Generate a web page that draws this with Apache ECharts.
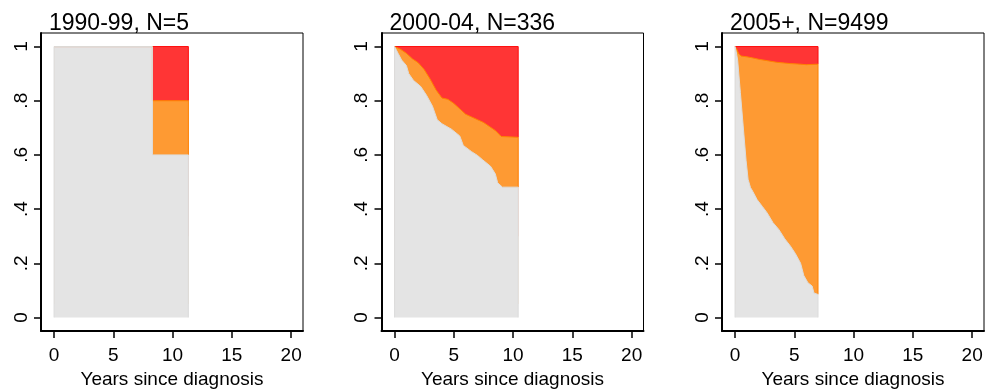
<!DOCTYPE html>
<html>
<head>
<meta charset="utf-8">
<script src="https://cdn.jsdelivr.net/npm/echarts@6/dist/echarts.min.js"></script>
<style>
  html, body { margin: 0; padding: 0; background: #fff; }
  #chart { width: 987px; height: 390px; }
</style>
</head>
<body>
<div id="chart"></div>
<script>
const panelTitles = ['1990-99, N=5', '2000-04, N=336', '2005+, N=9499'];
const xTicks = [0, 5, 10, 15, 20];
const yTicks = [0, 0.2, 0.4, 0.6, 0.8, 1];
const followUp = [11.33, 10.43, 7.0];

// grey = lower band, orange = top of the middle band (red fills the rest up to 1)
const grey1 = [[0, 1], [8.3, 1], [8.3, 0.6], [11.33, 0.6]];
const orange1 = [[0, 1], [8.3, 1], [8.3, 0.8], [11.33, 0.8]];

const grey2 = [[0, 1], [0.3, 0.975], [0.6, 0.95], [1.0, 0.93], [1.2, 0.9], [1.6, 0.875], [2.2, 0.853],
  [2.7, 0.82], [3.2, 0.78], [3.6, 0.73], [4.0, 0.715], [4.8, 0.695], [5.5, 0.67], [5.8, 0.635],
  [6.5, 0.612], [7.0, 0.598], [7.4, 0.583], [8.1, 0.558], [8.5, 0.53], [8.7, 0.497], [9.1, 0.481],
  [10.43, 0.481]];
const orange2 = [[0, 1], [0.5, 0.99], [1.0, 0.975], [1.5, 0.955], [2.0, 0.94], [2.5, 0.915], [3.0, 0.88],
  [3.5, 0.84], [4.0, 0.81], [4.5, 0.805], [5.0, 0.79], [5.5, 0.77], [6.0, 0.75], [6.5, 0.74],
  [7.0, 0.73], [7.5, 0.72], [8.0, 0.705], [8.5, 0.69], [9.0, 0.668], [10.43, 0.665]];

const grey3 = [[0, 1], [0.1, 0.98], [0.22, 0.95], [0.45, 0.83], [0.68, 0.71], [0.93, 0.58], [1.1, 0.51],
  [1.3, 0.48], [1.5, 0.465], [1.86, 0.435], [2.3, 0.41], [2.71, 0.386], [3.2, 0.35], [3.69, 0.325],
  [4.2, 0.29], [4.68, 0.263], [5.1, 0.235], [5.53, 0.2], [5.8, 0.155], [6.15, 0.128], [6.5, 0.116],
  [6.66, 0.09], [7.0, 0.085]];
const orange3 = [[0, 1], [0.15, 0.99], [0.3, 0.975], [0.5, 0.965], [1.0, 0.962], [1.5, 0.958], [2.0, 0.953],
  [2.7, 0.948], [3.5, 0.942], [4.2, 0.939], [4.7, 0.937], [5.5, 0.935], [6.0, 0.933], [7.0, 0.935]];

const greys = [grey1, grey2, grey3];
const oranges = [orange1, orange2, orange3];

const font = 'Liberation Sans, Arial, sans-serif';
const gridLefts = [41, 381.5, 722];

let chart = echarts.init(document.getElementById('chart'));

const last = pts => pts[pts.length - 1][1];

let grids = [], xAxes = [], yAxes = [], titles = [], series = [];
gridLefts.forEach((left, i) => {
  grids.push({
    left: left, top: 33, width: 262, height: 298,
    outerBoundsMode: 'none', containLabel: false,
    show: true, borderColor: '#000', borderWidth: 1, backgroundColor: '#fff'
  });
  titles.push({
    text: panelTitles[i], left: left + 3, top: 7,
    textStyle: { fontFamily: font, fontSize: 23, fontWeight: 'normal', color: '#000' }
  });
  xAxes.push({
    type: 'value', gridIndex: i, min: -1.1, max: 21,
    name: 'Years since diagnosis', nameLocation: 'middle', nameGap: 32,
    nameTextStyle: { fontFamily: font, fontSize: 19, color: '#000' },
    axisLine: { onZero: false, lineStyle: { color: '#000', width: 2 } },
    axisTick: { customValues: xTicks, length: 7, lineStyle: { color: '#000', width: 1.5 } },
    axisLabel: { customValues: xTicks, margin: 15, fontFamily: font, fontSize: 19, color: '#000' },
    splitLine: { show: false }
  });
  yAxes.push({
    type: 'value', gridIndex: i, min: -0.05, max: 1.05,
    axisLine: { onZero: false, lineStyle: { color: '#000', width: 2 } },
    axisTick: { customValues: yTicks, length: 7, lineStyle: { color: '#000', width: 1.5 } },
    axisLabel: {
      customValues: yTicks, rotate: 90, margin: 10, fontFamily: font, fontSize: 19, color: '#000',
      formatter: v => (v === 0 || v === 1) ? String(v) : String(+v.toFixed(1)).replace('0.', '.')
    },
    splitLine: { show: false }
  });

  const end = followUp[i];
  const gEnd = last(greys[i]), oEnd = last(oranges[i]);
  const common = { type: 'line', xAxisIndex: i, yAxisIndex: i, showSymbol: false, silent: true, animation: false };
  // red and orange only need to reach under the grey band, so their bottoms stay hidden;
  // the right edge of each band gets its own colour
  series.push(Object.assign({}, common, {
    data: [[0, 1], [end, 1], [end, oEnd]],
    lineStyle: { color: '#ff0d0d', width: 1 },
    areaStyle: { color: '#ff3535', opacity: 1, origin: 0.3 }
  }));
  series.push(Object.assign({}, common, {
    data: oranges[i].concat([[end, gEnd]]),
    lineStyle: { color: '#ff8200', width: 1 },
    areaStyle: { color: '#fe9a33', opacity: 1, origin: 0.05 }
  }));
  series.push(Object.assign({}, common, {
    data: [[0, 0]].concat(greys[i], [[end, 0]]),
    lineStyle: { color: '#dcdcdc', width: 1 },
    areaStyle: { color: '#e4e4e4', opacity: 1, origin: 0 }
  }));
});

chart.setOption({
  backgroundColor: '#fff',
  animation: false,
  title: titles,
  grid: grids,
  xAxis: xAxes,
  yAxis: yAxes,
  series: series
});
</script>
</body>
</html>
